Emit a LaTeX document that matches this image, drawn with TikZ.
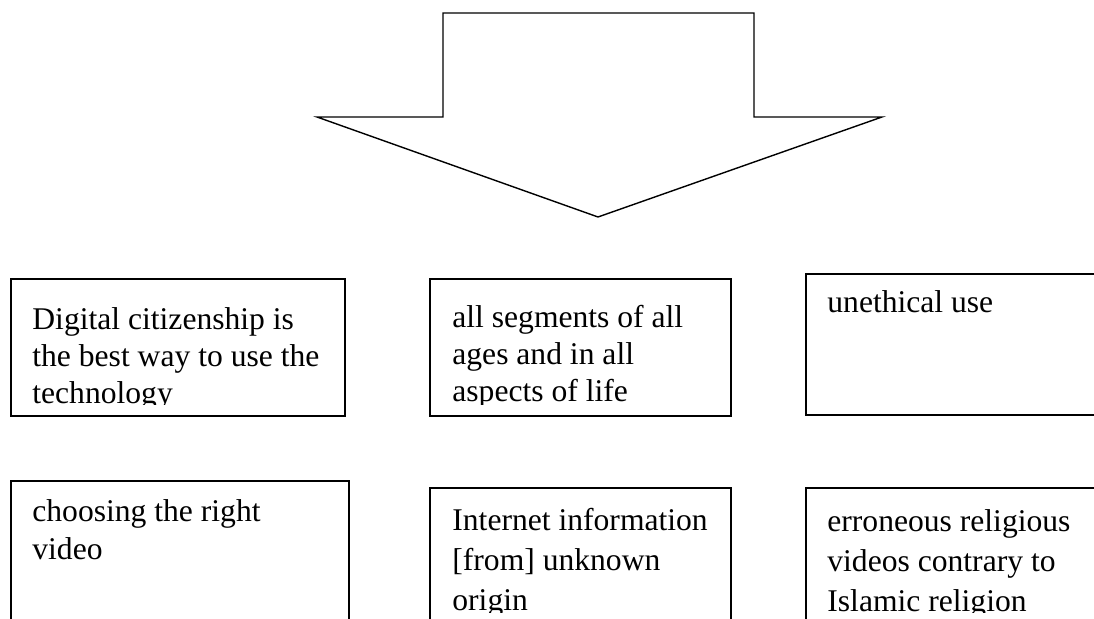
\documentclass[tikz,border=0pt]{standalone}
\usepackage{fontspec}
\setmainfont{Liberation Serif}
\usepackage{tikz}

\begin{document}
\begin{tikzpicture}[x=0.5pt, y=-0.5pt]
                \tikzstyle{cardbox} = [draw=black, line width=0.7pt]
                \tikzstyle{cardtext} = [anchor=base west, inner sep=0pt, align=left, font=\fontsize{15.8}{18.5}\selectfont]
                \tikzstyle{widetext} = [cardtext, font=\fontsize{15.8}{20}\selectfont]
                \clip (0,0) rectangle (1094,619);
                \fill[white] (0,0) rectangle (1094,619);
                % big arrow
                \draw[line width=0.7pt, line join=miter] (443,13) -- (754,13) -- (754,117) -- (882,117)
                    -- (598,217) -- (317,117) -- (443,117) -- cycle;
                % top row (anchor is the baseline of the last line, text cut off inside the box)
                \draw[cardbox] (11,279) rectangle (345,416);
                \begin{scope}
                    \clip (11,279) rectangle (345,405);
                    \node[cardtext] (digital) at (32,404) {Digital citizenship is\\the best way to use the\\technology};
                \end{scope}
                \draw[cardbox] (430,279) rectangle (731,416);
                \begin{scope}
                    \clip (430,279) rectangle (731,405);
                    \node[cardtext] (segments) at (452,402) {all segments of all\\ages and in all\\aspects of life};
                \end{scope}
                \draw[cardbox, line width=1pt] (806,274) rectangle (1100,415);
                \node[cardtext] (unethical) at (827,313) {unethical use};
                % bottom row
                \draw[cardbox, line width=1pt] (11,481) rectangle (349,640);
                \node[cardtext, font=\fontsize{15.8}{19}\selectfont] (video) at (32,560) {choosing the right\\video};
                \draw[cardbox] (430,488) rectangle (731,640);
                \draw[cardbox, line width=0.85pt] (806,488) rectangle (1100,640);
                \begin{scope}
                    \clip (0,0) rectangle (1094,613);
                    \node[widetext] (internet) at (452,611) {Internet information\\{[from]} unknown\\origin};
                    \node[widetext] (religious) at (827,612) {erroneous religious\\videos contrary to\\Islamic religion};
                \end{scope}
            \end{tikzpicture}
\end{document}
